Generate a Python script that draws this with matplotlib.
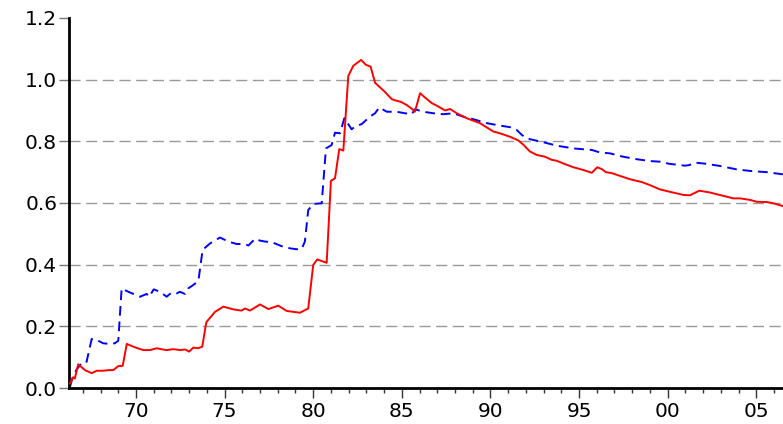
import matplotlib.pyplot as plt
from matplotlib.ticker import FixedLocator, FuncFormatter, MultipleLocator

# red (solid) series
red_years = [1966.28, 1966.46, 1966.55, 1966.74, 1967.12, 1967.5, 1967.78, 1968.15, 1968.44,
             1968.72, 1969.0, 1969.25, 1969.48, 1969.94, 1970.41, 1970.79, 1971.17, 1971.5,
             1971.73, 1972.1, 1972.5, 1972.77, 1973.0, 1973.23, 1973.5, 1973.74, 1973.95,
             1973.99, 1974.46, 1974.93, 1975.49, 1975.96, 1976.15, 1976.43, 1977.0, 1977.47,
             1978.03, 1978.5, 1979.25, 1979.72, 1980.0, 1980.23, 1980.76, 1981.0, 1981.23,
             1981.47, 1981.7, 1981.98, 1982.26, 1982.7, 1982.98, 1983.24, 1983.49, 1984.05,
             1984.43, 1984.67, 1984.95, 1985.27, 1985.65, 1985.74, 1986.03, 1986.31, 1986.69,
             1987.06, 1987.44, 1987.72, 1988.1, 1988.66, 1989.41, 1990.16, 1990.54, 1991.1,
             1991.57, 1991.86, 1992.23, 1992.61, 1993.08, 1993.46, 1993.74, 1994.21, 1994.68,
             1995.25, 1995.72, 1996.03, 1996.28, 1996.52, 1996.84, 1997.31, 1997.88, 1998.54,
             1999.0, 1999.57, 2000.3, 2000.9, 2001.26, 2001.79, 2002.39, 2003.15, 2003.71,
             2004.1, 2004.65, 2005.03, 2005.6, 2005.97, 2006.5]
red_values = [0.015, 0.035, 0.031, 0.077, 0.058, 0.048, 0.056, 0.056, 0.058,
              0.058, 0.071, 0.072, 0.143, 0.132, 0.123, 0.123, 0.129, 0.125,
              0.123, 0.126, 0.123, 0.125, 0.118, 0.131, 0.129, 0.134, 0.208,
              0.215, 0.247, 0.264, 0.255, 0.251, 0.258, 0.251, 0.271, 0.256,
              0.267, 0.250, 0.244, 0.258, 0.399, 0.417, 0.406, 0.672, 0.680,
              0.775, 0.770, 1.012, 1.045, 1.064, 1.048, 1.042, 0.990, 0.960,
              0.937, 0.932, 0.928, 0.918, 0.902, 0.896, 0.956, 0.942, 0.924,
              0.913, 0.900, 0.905, 0.891, 0.875, 0.859, 0.832, 0.826, 0.815,
              0.803, 0.789, 0.767, 0.756, 0.750, 0.740, 0.737, 0.726, 0.716,
              0.707, 0.698, 0.716, 0.710, 0.700, 0.697, 0.688, 0.677, 0.668,
              0.658, 0.644, 0.634, 0.626, 0.625, 0.640, 0.634, 0.623, 0.615,
              0.615, 0.610, 0.604, 0.603, 0.599, 0.590]

# blue (dashed) series
blue_years = [1966.28, 1966.46, 1966.65, 1966.93, 1967.2, 1967.5, 1967.78, 1968.15, 1968.53,
              1968.8, 1969.0, 1969.19, 1969.57, 1970.23, 1970.6, 1970.75, 1971.0, 1971.35,
              1971.73, 1972.0, 1972.3, 1972.48, 1972.77, 1972.95, 1973.23, 1973.52, 1973.76,
              1974.18, 1974.74, 1975.21, 1975.68, 1976.15, 1976.34, 1976.72, 1977.0, 1977.28,
              1977.66, 1978.22, 1978.69, 1979.07, 1979.35, 1979.53, 1979.72, 1980.0, 1980.48,
              1980.72, 1981.04, 1981.23, 1981.51, 1981.76, 1982.17, 1982.36, 1982.74, 1983.2,
              1983.49, 1983.73, 1984.15, 1984.71, 1985.18, 1985.56, 1985.74, 1986.21, 1986.78,
              1987.34, 1987.9, 1988.47, 1989.03, 1989.79, 1990.54, 1991.1, 1991.48, 1991.77,
              1992.05, 1992.23, 1992.99, 1993.74, 1994.68, 1995.72, 1996.18, 1996.75, 1997.5,
              1998.26, 1999.0, 1999.57, 2000.1, 2000.98, 2001.22, 2001.55, 2002.2, 2002.96,
              2003.9, 2004.65, 2005.6, 2006.5]
blue_values = [0.005, 0.040, 0.060, 0.080, 0.082, 0.159, 0.156, 0.145, 0.143,
               0.145, 0.153, 0.323, 0.312, 0.296, 0.305, 0.296, 0.320, 0.312,
               0.296, 0.309, 0.307, 0.312, 0.305, 0.323, 0.334, 0.347, 0.448,
               0.469, 0.488, 0.475, 0.467, 0.467, 0.462, 0.484, 0.478, 0.475,
               0.473, 0.460, 0.453, 0.450, 0.451, 0.475, 0.577, 0.597, 0.599,
               0.777, 0.788, 0.828, 0.826, 0.875, 0.839, 0.848, 0.856, 0.880,
               0.891, 0.910, 0.896, 0.896, 0.891, 0.888, 0.904, 0.896, 0.891,
               0.888, 0.891, 0.880, 0.872, 0.859, 0.851, 0.846, 0.837, 0.821,
               0.810, 0.807, 0.797, 0.786, 0.777, 0.772, 0.764, 0.761, 0.750,
               0.742, 0.736, 0.734, 0.727, 0.721, 0.723, 0.731, 0.727, 0.720,
               0.709, 0.704, 0.700, 0.693]

major_years = [1970, 1975, 1980, 1985, 1990, 1995, 2000, 2005]
y_ticks = [0.0, 0.2, 0.4, 0.6, 0.8, 1.0, 1.2]

plt.rcParams['font.family'] = ['DejaVu Sans']

fig = plt.figure(figsize=(7.83, 4.24), dpi=100)
ax = fig.add_axes([69 / 783, 36 / 424, 1 - 69 / 783, 370 / 424])

for y in y_ticks[1:-1]:
    ax.axhline(y, color='#999999', lw=1.0, dashes=(8, 4), zorder=1)

ax.plot(red_years, red_values, color='#ff0000', lw=1.4, zorder=3)
ax.plot(blue_years, blue_values, color='#0000ff', lw=1.4, dashes=(5, 3), zorder=2)

ax.set_xlim(1966.22, 2006.51)
ax.set_ylim(0, 1.2)

ax.xaxis.set_major_locator(FixedLocator(major_years))
ax.xaxis.set_minor_locator(MultipleLocator(1))
ax.xaxis.set_major_formatter(FuncFormatter(lambda v, p: f"{int(round(v)) % 100:02d}"))
ax.set_yticks(y_ticks)
ax.yaxis.set_major_formatter(FuncFormatter(lambda v, p: f"{v:.1f}"))

for s in ['top', 'right']:
    ax.spines[s].set_visible(False)
for s in ['left', 'bottom']:
    ax.spines[s].set_linewidth(2.0)
    ax.spines[s].set_color('black')

ax.tick_params(axis='x', which='major', length=7, width=1, color='#333333',
               labelsize=14.5, pad=3)
ax.tick_params(axis='x', which='minor', length=3.5, width=1, color='#333333')
ax.tick_params(axis='y', which='major', length=7.5, width=1, color='#777777',
               labelsize=14.5, pad=1)

fig.savefig('out.png', dpi=100)
